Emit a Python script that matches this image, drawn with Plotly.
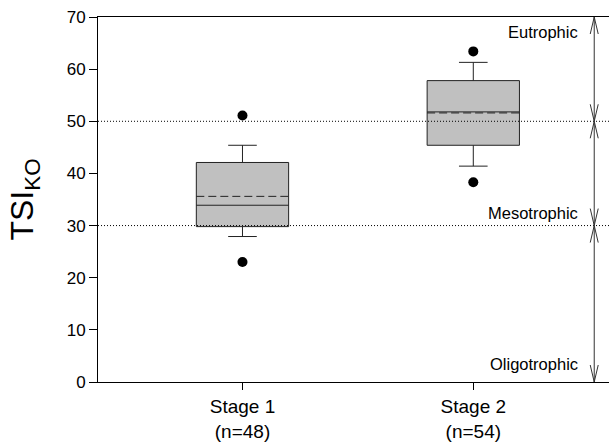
import plotly.graph_objects as go

# ---- data ----
stages = ["Stage 1", "Stage 2"]
counts = [48, 54]
positions = [1, 2]
q1 = [29.8, 45.4]
median = [33.9, 51.8]
q3 = [42.1, 57.8]
mean = [35.6, 51.6]
whisker_low = [27.9, 41.4]
whisker_high = [45.4, 61.3]
p5 = [23.0, 38.3]
p95 = [51.1, 63.4]

trophic_bounds = [0, 30, 50, 70]
trophic_labels = ["Oligotrophic", "Mesotrophic", "Eutrophic"]
trophic_label_y = [3.4, 32.4, 67.1]
y_ticks = [0, 10, 20, 30, 40, 50, 60, 70]

BOX_W = 0.4
FONT = "Liberation Sans, Arial, Helvetica, sans-serif"

fig = go.Figure()
fig.add_trace(go.Box(
    x=positions, q1=q1, median=median, q3=q3,
    lowerfence=whisker_low, upperfence=whisker_high,
    boxpoints=False, width=BOX_W, whiskerwidth=0.31,
    fillcolor="#c0c0c0", line=dict(color="#222222", width=1),
    showlegend=False, hoverinfo="skip",
))
# mean lines (dashed)
mx, my = [], []
for p, m in zip(positions, mean):
    mx += [p - BOX_W / 2, p + BOX_W / 2, None]
    my += [m, m, None]
fig.add_trace(go.Scatter(x=mx, y=my, mode="lines",
                         line=dict(color="#222222", width=1, dash="8px,4px"),
                         showlegend=False, hoverinfo="skip"))
# outliers (5th / 95th percentile)
fig.add_trace(go.Scatter(
    x=positions + positions, y=p5 + p95, mode="markers",
    marker=dict(color="black", size=10), showlegend=False, hoverinfo="skip",
))

# dotted boundaries
for b in trophic_bounds[1:-1]:
    fig.add_shape(type="line", xref="paper", x0=0, x1=1, yref="y", y0=b, y1=b,
                  line=dict(color="black", width=1, dash="1px,2px"), layer="above")

# arrows on right
ax_x = 2.524
for i in range(len(trophic_bounds) - 1):
    lo, hi = trophic_bounds[i], trophic_bounds[i + 1]
    fig.add_shape(type="line", xref="x", yref="y", x0=ax_x, x1=ax_x, y0=lo, y1=hi,
                  line=dict(color="#333333", width=1))
    fig.add_shape(type="path", xref="x", yref="y", xsizemode="pixel", ysizemode="pixel",
                  xanchor=ax_x, yanchor=hi, path="M -4,-17 L 0,0 L 4,-17",
                  line=dict(color="#333333", width=1))
    fig.add_shape(type="path", xref="x", yref="y", xsizemode="pixel", ysizemode="pixel",
                  xanchor=ax_x, yanchor=lo, path="M -4,17 L 0,0 L 4,17",
                  line=dict(color="#333333", width=1))

for lab, ly in zip(trophic_labels, trophic_label_y):
    fig.add_annotation(x=2.463, y=ly, xref="x", yref="y", text=lab, showarrow=False,
                       xanchor="right", yanchor="middle",
                       font=dict(family=FONT, size=16.5, color="black"))

fig.update_layout(
    width=609, height=448,
    margin=dict(l=98, r=0, t=17, b=66),
    plot_bgcolor="white", paper_bgcolor="white",
    font=dict(family=FONT, color="black"),
    xaxis=dict(
        range=[0.374, 2.588], tickvals=positions,
        ticktext=[f"{s}<br>(n={n})" for s, n in zip(stages, counts)],
        showgrid=False, zeroline=False, showline=True, linecolor="black", linewidth=1,
        mirror=True, ticks="outside", ticklen=7, tickcolor="black",
        tickfont=dict(size=19),
    ),
    yaxis=dict(
        range=[0, 70], tickvals=y_ticks, showgrid=False, zeroline=False,
        showline=True, linecolor="black", linewidth=1,
        ticks="outside", ticklen=8, tickcolor="black", tickfont=dict(size=17),
        title=dict(text="TSI<sub>KO</sub>", font=dict(size=32), standoff=23),
    ),
)

fig.write_html("out.html", config={"displayModeBar": False},
               post_script="document.body.style.margin='0';document.body.style.overflow='hidden';")
